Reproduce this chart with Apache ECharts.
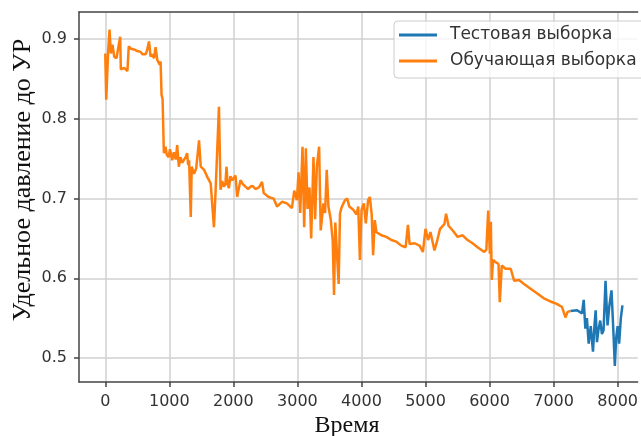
<!DOCTYPE html>
<html>
<head>
<meta charset="utf-8">
<script src="https://cdn.jsdelivr.net/npm/echarts@6/dist/echarts.min.js"></script>
<style>
html,body{margin:0;padding:0;background:#fff;}
#chart{width:641px;height:436px;}
</style>
</head>
<body>
<div id="chart"></div>
<script>
// обучающая выборка (время, давление)
var trainTime = [0,15,30,45,67,87,113,140,175,205,233,243,295,346,367,400,430,450,500,520,553,580,600,630,650,683,708,730,761,786,812,830,850,864,879,895,915,941,960,990,1010,1045,1070,1100,1123,1149,1175,1200,1231,1255,1278,1295,1309,1335,1350,1387,1420,1464,1491,1543,1594,1646,1697,1723,1775,1800,1825,1852,1875,1894,1910,1930,1955,1982,2034,2059,2111,2150,2189,2230,2267,2300,2344,2400,2448,2474,2551,2629,2681,2707,2759,2836,2914,2951,2992,3018,3044,3080,3106,3132,3158,3189,3215,3251,3277,3303,3339,3364,3406,3432,3458,3484,3520,3551,3572,3592,3623,3644,3665,3690,3742,3778,3810,3872,3924,3950,3976,4002,4038,4068,4104,4131,4160,4182,4208,4234,4311,4389,4467,4545,4622,4690,4726,4752,4830,4907,4959,5000,5040,5077,5140,5185,5227,5295,5321,5360,5425,5502,5580,5657,5735,5813,5917,5950,5979,6005,6020,6035,6056,6100,6140,6160,6191,6250,6331,6383,6460,6538,6641,6745,6848,6950,7050,7132,7185,7220,7262];
var trainValue = [0.882,0.824,0.826,0.884,0.912,0.882,0.893,0.878,0.876,0.878,0.903,0.862,0.864,0.86,0.891,0.888,0.886,0.887,0.885,0.884,0.884,0.881,0.882,0.881,0.885,0.897,0.878,0.881,0.876,0.89,0.874,0.875,0.868,0.872,0.83,0.825,0.757,0.765,0.755,0.752,0.762,0.748,0.758,0.749,0.767,0.74,0.752,0.745,0.744,0.752,0.757,0.742,0.748,0.677,0.74,0.731,0.738,0.773,0.74,0.736,0.727,0.719,0.664,0.71,0.815,0.711,0.722,0.715,0.718,0.74,0.718,0.713,0.728,0.723,0.729,0.702,0.723,0.718,0.715,0.712,0.715,0.716,0.712,0.714,0.721,0.707,0.702,0.70,0.69,0.688,0.696,0.694,0.688,0.71,0.698,0.733,0.682,0.765,0.664,0.763,0.687,0.714,0.65,0.752,0.674,0.74,0.765,0.66,0.694,0.682,0.736,0.69,0.674,0.648,0.579,0.67,0.623,0.593,0.681,0.689,0.698,0.70,0.69,0.686,0.68,0.69,0.623,0.686,0.694,0.669,0.698,0.702,0.68,0.629,0.673,0.658,0.654,0.652,0.648,0.646,0.641,0.639,0.667,0.643,0.644,0.641,0.633,0.662,0.648,0.658,0.635,0.648,0.662,0.668,0.681,0.666,0.66,0.652,0.654,0.648,0.644,0.639,0.633,0.636,0.685,0.631,0.671,0.598,0.623,0.62,0.618,0.57,0.616,0.612,0.612,0.597,0.598,0.593,0.587,0.581,0.575,0.571,0.568,0.564,0.551,0.558,0.559];
// тестовая выборка
var testTime = [7262,7366,7444,7470,7496,7520,7548,7580,7615,7640,7657,7677,7700,7728,7755,7780,7811,7842,7870,7904,7935,7956,7977,8000,8023,8050,8075];
var testValue = [0.559,0.56,0.556,0.573,0.537,0.55,0.518,0.54,0.508,0.543,0.56,0.52,0.535,0.547,0.53,0.535,0.597,0.541,0.565,0.585,0.531,0.49,0.525,0.54,0.518,0.55,0.566];
var xTicks = [0,1000,2000,3000,4000,5000,6000,7000,8000];
var yTicks = [0.5,0.6,0.7,0.8,0.9];

function pairs(xs, ys){
    var out=[];
    for(var i=0;i<xs.length;i++){
        out.push([xs[i],ys[i]]);
    }
    return out;
}

var spine = {color:'#444',width:1.5};
var tickFont = {fontFamily:'DejaVu Sans',fontSize:16,color:'#333'};
var myChart = echarts.init(document.getElementById('chart'));
myChart.setOption({
    animation:false,
    backgroundColor:'#fff',
    grid:{left:79,top:12,width:562,height:370},
    legend:{
        left:394,top:21,orient:'vertical',
        padding:[5,10,8,5],itemGap:8,
        icon:'rect',itemWidth:38,itemHeight:3,
        backgroundColor:'rgba(255,255,255,0.8)',borderColor:'#ccc',borderWidth:1,borderRadius:4,
        textStyle:{fontFamily:'DejaVu Sans',fontSize:17,color:'#333',lineHeight:18,padding:[0,0,0,8]},
        data:['Тестовая выборка','Обучающая выборка']
    },
    xAxis:[{
        type:'value',min:-410,max:8312,
        axisLine:{show:true,onZero:false,lineStyle:spine},
        axisTick:{show:true,length:5,customValues:xTicks,lineStyle:spine},
        axisLabel:Object.assign({margin:12,customValues:xTicks,formatter:function(v){return String(v);}},tickFont),
        splitLine:{show:true,lineStyle:{color:'#d0d0d0',width:1.5}}
    },{
        // верхняя рамка
        type:'value',position:'top',min:-410,max:8312,
        axisLine:{show:true,onZero:false,lineStyle:spine},
        axisTick:{show:false},axisLabel:{show:false},splitLine:{show:false}
    }],
    yAxis:{
        type:'value',min:0.47,max:0.934,
        axisLine:{show:true,onZero:false,lineStyle:spine},
        axisTick:{show:true,length:5,customValues:yTicks,lineStyle:spine},
        axisLabel:Object.assign({margin:12,customValues:yTicks,formatter:function(v){return v.toFixed(1);}},tickFont),
        splitLine:{show:true,lineStyle:{color:'#d0d0d0',width:1.5}}
    },
    graphic:[
        {type:'text',x:23,y:180,rotation:Math.PI/2,style:{text:'Удельное давление до УР',fontFamily:'Liberation Serif',fontSize:26,fill:'#111',align:'center',verticalAlign:'middle'}},
        {type:'text',x:347,y:426,style:{text:'Время',fontFamily:'Liberation Serif',fontSize:24,fill:'#111',align:'center',verticalAlign:'middle'}}
    ],
    series:[
        {name:'Тестовая выборка',type:'line',symbol:'none',color:'#1f77b4',lineStyle:{width:2.5},data:pairs(testTime,testValue)},
        {name:'Обучающая выборка',type:'line',symbol:'none',color:'#ff7f0e',lineStyle:{width:2.5},data:pairs(trainTime,trainValue)}
    ]
});
</script>
</body>
</html>
